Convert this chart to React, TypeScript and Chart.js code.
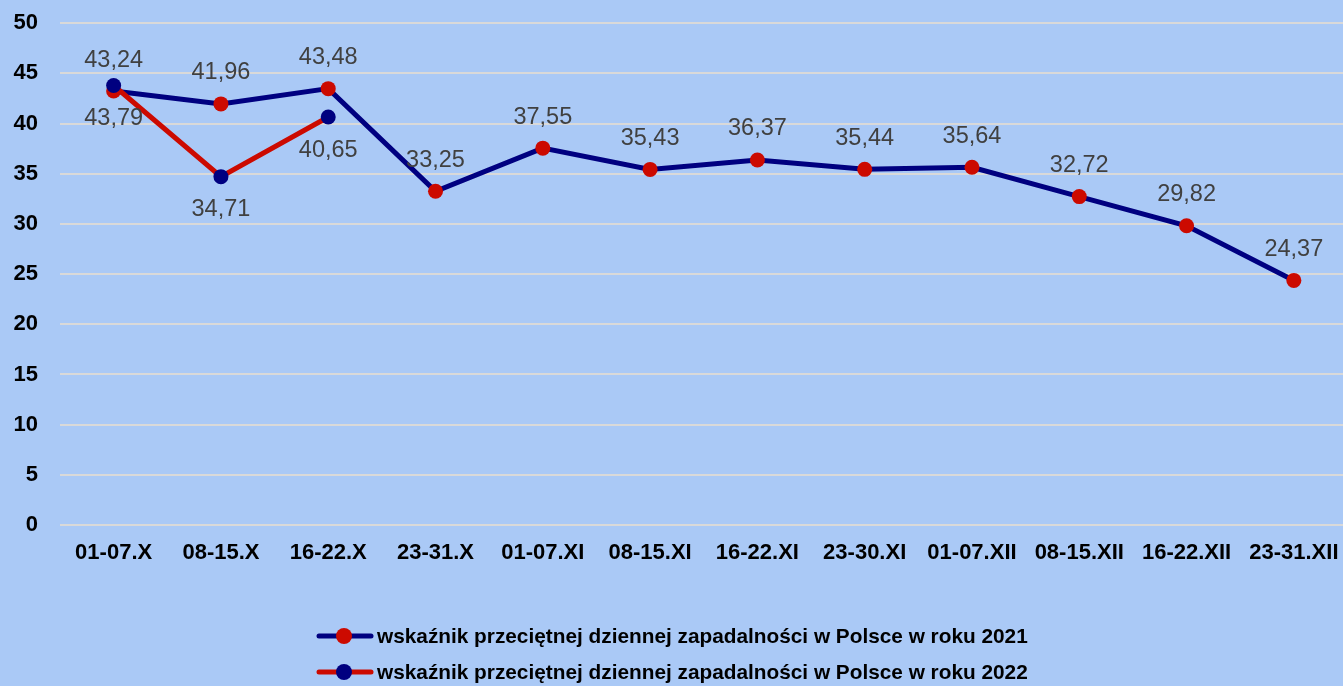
import React, { useEffect, useRef } from "react";
import { Chart, registerables } from "chart.js";

Chart.register(...registerables);

const categories = [
  "01-07.X", "08-15.X", "16-22.X", "23-31.X", "01-07.XI", "08-15.XI",
  "16-22.XI", "23-30.XI", "01-07.XII", "08-15.XII", "16-22.XII", "23-31.XII",
];
const values2021 = [43.24, 41.96, 43.48, 33.25, 37.55, 35.43, 36.37, 35.44, 35.64, 32.72, 29.82, 24.37];
const values2022 = [43.79, 34.71, 40.65];
const legend2021 = "wskaźnik przeciętnej dziennej zapadalności w Polsce w roku 2021";
const legend2022 = "wskaźnik przeciętnej dziennej zapadalności w Polsce w roku 2022";
const yTicks = { min: 0, max: 50, step: 5 };

const NAVY = "#000080";
const RED = "#CC0A00";
const BG = "#AAC9F6";
const FONT = "'Liberation Sans', Arial, sans-serif";
const SHIFT = 12;

export default function App() {
  const ref = useRef<HTMLCanvasElement | null>(null);
  useEffect(() => {
    const canvas = ref.current!;
    const bgPlugin = {
      id: "bg",
      beforeDraw(chart: any) {
        const { ctx, width, height } = chart;
        ctx.save();
        ctx.fillStyle = BG;
        ctx.fillRect(0, 0, width, height);
        ctx.restore();
      },
    };
    const labelPlugin = {
      id: "dlabels",
      afterDatasetsDraw(chart: any) {
        const ctx = chart.ctx;
        ctx.save();
        ctx.font = `23.5px ${FONT}`;
        ctx.fillStyle = "#404040";
        ctx.textAlign = "center";
        ctx.textBaseline = "middle";
        chart.data.datasets.forEach((ds: any, i: number) => {
          const meta = chart.getDatasetMeta(i);
          const above = ds.label === legend2021;
          meta.data.forEach((pt: any, j: number) => {
            const v = ds.data[j];
            const txt = v.toFixed(2).replace(".", ",");
            ctx.fillText(txt, pt.x, above ? pt.y - 31 : pt.y + 33);
          });
        });
        ctx.restore();
      },
      afterDraw(chart: any) {
        const ctx = chart.ctx;
        const items = [
          { text: legend2021, line: NAVY, dot: RED, y: 636 + SHIFT },
          { text: legend2022, line: RED, dot: NAVY, y: 672 + SHIFT },
        ];
        ctx.save();
        items.forEach((it) => {
          ctx.strokeStyle = it.line;
          ctx.lineWidth = 5;
          ctx.lineCap = "round";
          ctx.beginPath();
          ctx.moveTo(319, it.y);
          ctx.lineTo(371, it.y);
          ctx.stroke();
          ctx.fillStyle = it.dot;
          ctx.beginPath();
          ctx.arc(344, it.y, 8, 0, Math.PI * 2);
          ctx.fill();
          ctx.fillStyle = "#000000";
          ctx.font = `bold 20.8px ${FONT}`;
          ctx.textAlign = "left";
          ctx.textBaseline = "middle";
          ctx.fillText(it.text, 377, it.y + 1);
        });
        ctx.restore();
      },
    };
    const chart = new Chart(canvas, {
      type: "line",
      data: {
        labels: categories,
        datasets: [
          {
            label: legend2022,
            data: values2022,
            borderColor: RED,
            backgroundColor: NAVY,
            pointBackgroundColor: NAVY,
            pointBorderColor: NAVY,
            borderWidth: 5,
            pointRadius: 7.5,
            pointBorderWidth: 0,
            tension: 0,
          },
          {
            label: legend2021,
            data: values2021,
            borderColor: NAVY,
            backgroundColor: RED,
            pointBackgroundColor: RED,
            pointBorderColor: RED,
            borderWidth: 5,
            pointRadius: 7.5,
            pointBorderWidth: 0,
            tension: 0,
          },
        ],
      },
      options: {
        responsive: false,
        animation: false,
        layout: { padding: { top: 11, left: 0, right: 0, bottom: 0 } },
        plugins: { legend: { display: false }, tooltip: { enabled: false } },
        scales: {
          x: {
            offset: true,
            grid: { display: false, drawTicks: false },
            border: { display: false },
            ticks: {
              color: "#000",
              font: { family: FONT, size: 22, weight: "bold" },
              padding: 15,
              maxRotation: 0,
              autoSkip: false,
            },
            afterFit(axis: any) {
              axis.height = 161;
            },
          },
          y: {
            min: yTicks.min,
            max: yTicks.max,
            grid: { color: "#D9D9D9", lineWidth: 2, drawTicks: false },
            border: { display: false },
            ticks: {
              stepSize: yTicks.step,
              color: "#000",
              font: { family: FONT, size: 22, weight: "bold" },
              padding: 22,
            },
            afterFit(axis: any) {
              axis.width = 60;
            },
          },
        },
      },
      plugins: [bgPlugin, labelPlugin],
    });
    return () => chart.destroy();
  }, []);
  return (
    <div style={{ position: "fixed", left: 0, top: 0, width: 1343, height: 686, overflow: "hidden", background: BG }}>
      <canvas
        ref={ref}
        width={1355}
        height={686 + SHIFT}
        style={{ display: "block", position: "absolute", left: 0, top: -SHIFT }}
      />
    </div>
  );
}
